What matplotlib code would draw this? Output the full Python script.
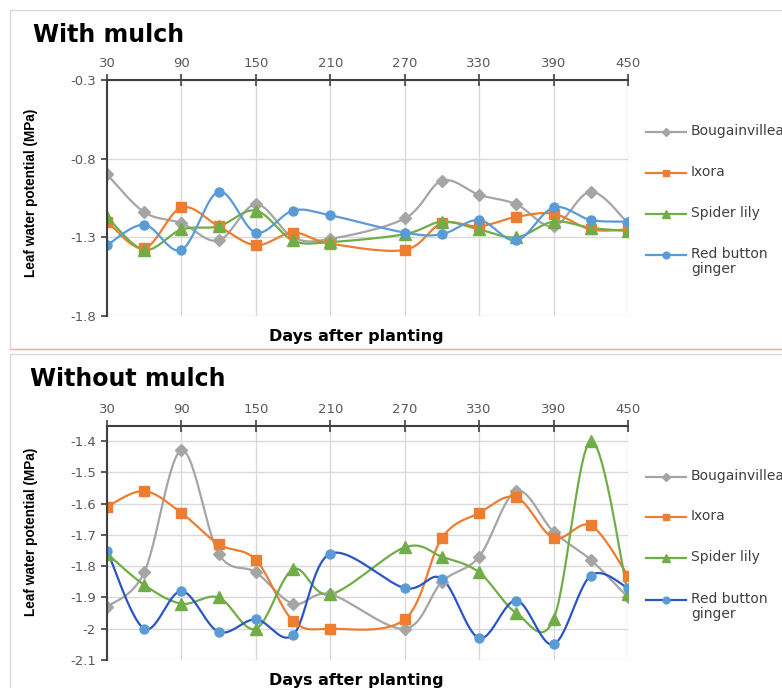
#!/usr/bin/env python3

import matplotlib
matplotlib.use("Agg")
import matplotlib.pyplot as plt
from matplotlib.lines import Line2D
from matplotlib.patches import Rectangle
import numpy as np

# sampling days (no reading at 240)
DAYS = [30, 60, 90, 120, 150, 180, 210, 270, 300, 330, 360, 390, 420, 450]

# with mulch
BOUG_M = [-0.90, -1.14, -1.21, -1.32, -1.09, -1.30, -1.31, -1.18, -0.94, -1.03, -1.09, -1.23, -1.01, -1.21]
IXORA_M = [-1.20, -1.37, -1.11, -1.23, -1.35, -1.27, -1.34, -1.38, -1.21, -1.23, -1.17, -1.15, -1.25, -1.25]
SPIDER_M = [-1.17, -1.38, -1.25, -1.23, -1.13, -1.32, -1.33, -1.28, -1.20, -1.25, -1.30, -1.20, -1.24, -1.26]
GINGER_M = [-1.35, -1.22, -1.38, -1.01, -1.27, -1.13, -1.16, -1.27, -1.28, -1.19, -1.32, -1.11, -1.19, -1.20]

# without mulch
BOUG_N = [-1.93, -1.82, -1.43, -1.76, -1.82, -1.92, -1.89, -2.00, -1.85, -1.77, -1.56, -1.69, -1.78, -1.90]
IXORA_N = [-1.61, -1.56, -1.63, -1.73, -1.78, -1.975, -2.00, -1.97, -1.71, -1.63, -1.58, -1.71, -1.67, -1.83]
SPIDER_N = [-1.76, -1.86, -1.92, -1.90, -2.00, -1.81, -1.89, -1.74, -1.77, -1.82, -1.95, -1.97, -1.40, -1.89]
GINGER_N = [-1.75, -2.00, -1.88, -2.01, -1.97, -2.02, -1.76, -1.87, -1.84, -2.03, -1.91, -2.05, -1.83, -1.87]

NAMES = ["Bougainvillea", "Ixora", "Spider lily", "Red button\nginger"]
MARKERS = ["D", "s", "^", "o"]
MSIZE = [6, 6.5, 8.5, 6.5]
FACE = ["#a5a5a5", "#ed7d31", "#70ad47", "#5b9bd5"]
LINE_TOP = ["#a5a5a5", "#ed7d31", "#70ad47", "#5b9bd5"]
LINE_BOT = ["#a5a5a5", "#ed7d31", "#70ad47", "#2a55c5"]

W, H = 782, 688
TICK_COL = "#595959"
AXIS_COL = "#404040"
GRID_COL = "#d9d9d9"


def smooth(x, y, n=30):
    # excel-like smoothed line: bezier segments with catmull-rom controls
    pts = np.column_stack([x, y]).astype(float)
    out = []
    t = np.linspace(0, 1, n)[:, None]
    for i in range(len(pts) - 1):
        p0 = pts[max(i - 1, 0)]
        p1 = pts[i]
        p2 = pts[i + 1]
        p3 = pts[min(i + 2, len(pts) - 1)]
        c1 = p1 + (p2 - p0) / 6
        c2 = p2 - (p3 - p1) / 6
        seg = ((1 - t) ** 3) * p1 + 3 * ((1 - t) ** 2) * t * c1 + 3 * (1 - t) * t ** 2 * c2 + t ** 3 * p2
        out.append(seg if i == 0 else seg[1:])
    out = np.vstack(out)
    return out[:, 0], out[:, 1]


def fx(px):
    return px / W


def fy(py):
    return 1 - py / H


def panel(fig, rect, series, line_cols, ylim, yticks, ylabels, ylab_y):
    ax = fig.add_axes(rect)
    for vals, m, ms, fc, lc in zip(series, MARKERS, MSIZE, FACE, line_cols):
        sx, sy = smooth(DAYS, vals)
        ax.plot(sx, sy, color=lc, lw=1.6, zorder=3)
        ax.plot(DAYS, vals, ls="none", marker=m, ms=ms, mfc=fc, mec=fc, zorder=4)
    ax.set_xlim(30, 450)
    ax.set_ylim(*ylim)
    ax.set_xticks(range(30, 451, 60))
    ax.set_yticks(yticks)
    ax.set_yticklabels(ylabels)
    ax.xaxis.tick_top()
    ax.tick_params(axis="x", direction="inout", length=8, width=1.2, color=AXIS_COL,
                   labelcolor=TICK_COL, labelsize=9.5, pad=3)
    ax.tick_params(axis="y", direction="out", length=4, width=1.2, color=AXIS_COL,
                   labelcolor=TICK_COL, labelsize=9.5, pad=4)
    for s in ["right", "bottom"]:
        ax.spines[s].set_visible(False)
    for s in ["top", "left"]:
        ax.spines[s].set_color(AXIS_COL)
        ax.spines[s].set_linewidth(1.5)
        ax.spines[s].set_zorder(5)
    ax.grid(True, color=GRID_COL, lw=1)
    ax.set_axisbelow(True)
    ax.set_ylabel("Leaf water potential (MPa)", fontsize=9.8, fontweight="bold",
                  family="Liberation Sans")
    ax.yaxis.set_label_coords((38 - 107) / 521, ylab_y)
    return ax


fig = plt.figure(figsize=(W / 100, H / 100), dpi=100)

# panel frames
fig.add_artist(Rectangle((fx(10), fy(349)), fx(800), (349 - 10) / H, transform=fig.transFigure,
                         fill=False, edgecolor=GRID_COL, lw=1))
fig.add_artist(Line2D([fx(10), 1], [fy(349), fy(349)], transform=fig.transFigure,
                      color="#e6b3aa", lw=1))
fig.add_artist(Rectangle((fx(10), fy(720)), fx(800), (720 - 354) / H, transform=fig.transFigure,
                         fill=False, edgecolor=GRID_COL, lw=1))

ax1 = panel(fig, [fx(107), fy(316), 521 / W, 236 / H],
            [BOUG_M, IXORA_M, SPIDER_M, GINGER_M], LINE_TOP,
            (-1.8, -0.3), [-0.3, -0.8, -1.3, -1.8], ["-0.3", "-0.8", "-1.3", "-1.8"], 0.52)
ax2 = panel(fig, [fx(107), fy(660), 521 / W, 234 / H],
            [BOUG_N, IXORA_N, SPIDER_N, GINGER_N], LINE_BOT,
            (-2.1, -1.352), [-1.4, -1.5, -1.6, -1.7, -1.8, -1.9, -2.0, -2.1],
            ["-1.4", "-1.5", "-1.6", "-1.7", "-1.8", "-1.9", "-2", "-2.1"], 0.547)

# titles and x labels
fig.text(fx(33), fy(42), "With mulch", fontsize=17, fontweight="bold", va="baseline")
fig.text(fx(30), fy(386), "Without mulch", fontsize=17, fontweight="bold", va="baseline")
fig.text(fx(356), fy(336), "Days after planting", fontsize=11.5, fontweight="bold",
         ha="center", va="center")
fig.text(fx(356), fy(680), "Days after planting", fontsize=11.5, fontweight="bold",
         ha="center", va="center")

# legends drawn at the right of each panel
for rows, line_cols in [([132, 173, 214, 255], LINE_TOP), ([477, 517, 558, 600], LINE_BOT)]:
    for name, py, m, ms, fc, lc in zip(NAMES, rows, MARKERS, MSIZE, FACE, line_cols):
        fig.add_artist(Line2D([fx(646), fx(686)], [fy(py), fy(py)], transform=fig.transFigure,
                              color=lc, lw=1.6))
        fig.add_artist(Line2D([fx(666)], [fy(py)], transform=fig.transFigure, ls="none",
                              marker=m, ms=ms * 0.75, mfc=fc, mec=fc))
        fig.text(fx(691), fy(py - 8), name, fontsize=10, color=AXIS_COL, va="top",
                 linespacing=1.05)

fig.savefig("out.png", dpi=100)
